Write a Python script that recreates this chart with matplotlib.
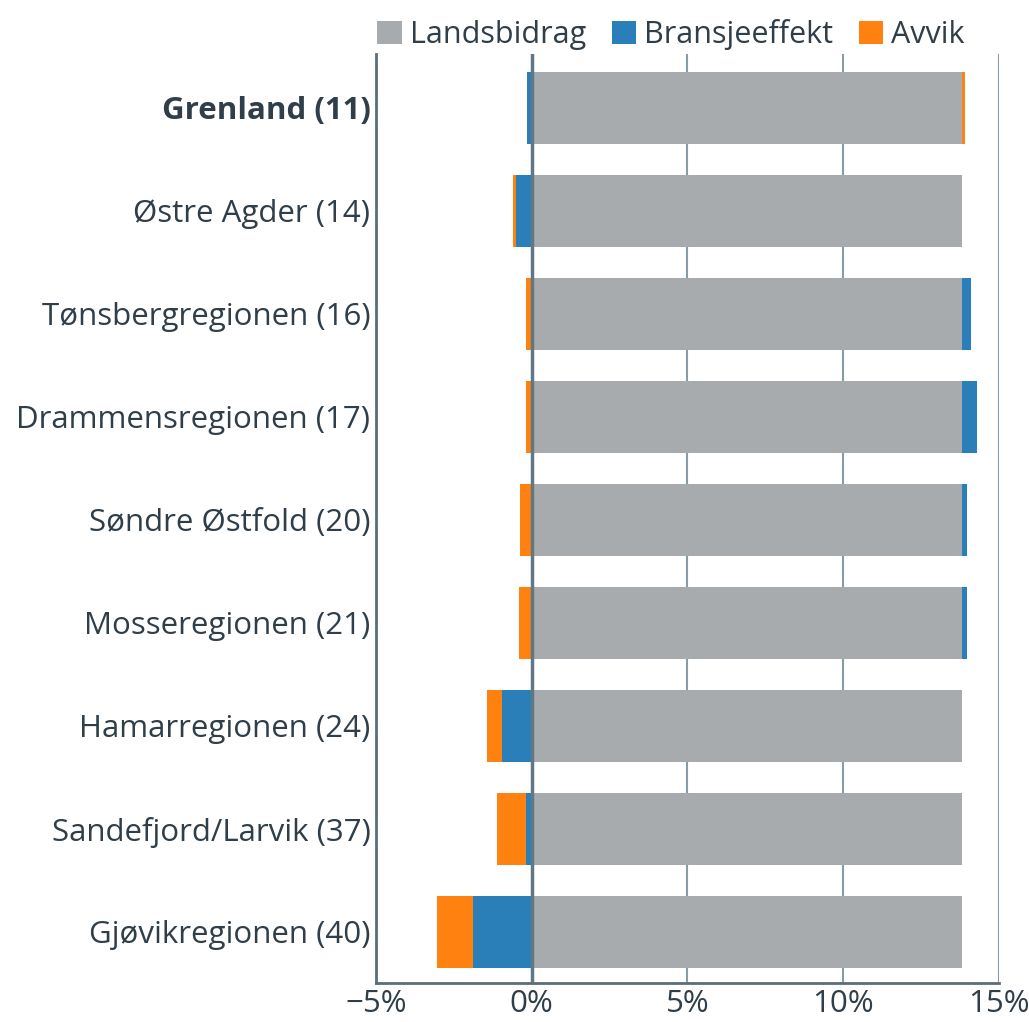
import numpy as np
import matplotlib.pyplot as plt

plt.rcParams['font.family'] = ['Open Sans', 'DejaVu Sans']

regions = ['Grenland (11)', 'Østre Agder (14)', 'Tønsbergregionen (16)',
           'Drammensregionen (17)', 'Søndre Østfold (20)', 'Mosseregionen (21)',
           'Hamarregionen (24)', 'Sandefjord/Larvik (37)', 'Gjøvikregionen (40)']
landsbidrag = [13.8, 13.8, 13.8, 13.8, 13.8, 13.8, 13.8, 13.8, 13.8]
bransjeeffekt = [-0.14, -0.50, 0.30, 0.49, 0.18, 0.18, -0.95, -0.18, -1.87]
avvik = [0.12, -0.11, -0.19, -0.19, -0.37, -0.42, -0.49, -0.95, -1.17]

c_land = '#a7abae'
c_bran = '#2a7fb8'
c_avvik = '#ff8211'
txt = '#2f3e48'
grid = '#8b9ba5'
spine = '#5a6e7a'

land = np.array(landsbidrag)
bran = np.array(bransjeeffekt)
avv = np.array(avvik)
y = np.arange(len(regions))

# stacking: positive parts go right of landsbidrag, negative parts left of 0
bran_left = np.where(bran >= 0, land, 0)
avv_left = np.where(avv >= 0, land + np.clip(bran, 0, None),
                    np.clip(bran, None, 0))

fig = plt.figure(figsize=(10.29, 10.22), dpi=100)
ax = fig.add_axes([0.3654, 0.038, 0.6054, 0.909])

h = 0.7
ax.barh(y, land, height=h, color=c_land, label='Landsbidrag', zorder=3)
ax.barh(y, bran, left=bran_left, height=h, color=c_bran,
        label='Bransjeeffekt', zorder=3)
ax.barh(y, avv, left=avv_left, height=h, color=c_avvik, label='Avvik',
        zorder=3)

ax.set_xlim(-5, 15)
ax.set_ylim(len(regions) - 0.5, -0.52)
ax.set_xticks([-5, 0, 5, 10, 15])
ax.set_xticklabels(['\u22125%', '0%', '5%', '10%', '15%'])
ax.set_yticks(y)
ax.set_yticklabels(regions)
ax.get_yticklabels()[0].set_fontweight('bold')

ax.tick_params(axis='both', length=0, labelsize=22.5, colors=txt)
ax.tick_params(axis='y', pad=4)
ax.tick_params(axis='x', pad=4)

for xv in [5, 10, 15]:
    ax.axvline(xv, color=grid, lw=1.5, zorder=1)
ax.axvline(0, color='#5f7884', lw=2.5, zorder=4)

for s in ['top', 'right']:
    ax.spines[s].set_visible(False)
for s in ['left', 'bottom']:
    ax.spines[s].set_color(spine)
    ax.spines[s].set_linewidth(2)

leg = fig.legend(loc='upper center', bbox_to_anchor=(0.652, 1.008), ncol=3,
                 frameon=False, fontsize=22, handlelength=0.8,
                 handleheight=0.8, handletextpad=0.25, columnspacing=0.85)
for t in leg.get_texts():
    t.set_color(txt)

fig.savefig('out.png', dpi=100)
